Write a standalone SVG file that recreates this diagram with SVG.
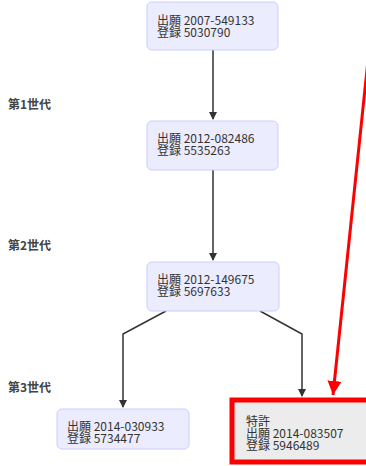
<svg xmlns="http://www.w3.org/2000/svg" width="366" height="466" viewBox="0 0 366 466">
<style>
  .node rect { fill: #ECECFF; stroke: #CCCCFF; stroke-width: 1; }
  .node text, .hl text { font-family: "Noto Sans CJK JP", "Noto Sans", sans-serif; font-size: 12px; fill: #333; }
  .gen { font-family: "Noto Sans CJK JP", "Noto Sans", sans-serif; font-size: 12px; font-weight: bold; fill: #444; }
  .edge { fill: none; stroke: #333; stroke-width: 1.5; }
  .red { fill: none; stroke: #FF0000; stroke-width: 3; }
</style>
<defs>
  <marker id="ah" markerWidth="8" markerHeight="8" refX="7" refY="4" orient="auto" markerUnits="userSpaceOnUse">
    <path d="M0,0 L8,4 L0,8 Z" fill="#333"/>
  </marker>
  <marker id="rah" markerWidth="16" markerHeight="14" refX="14" refY="7" orient="auto" markerUnits="userSpaceOnUse">
    <path d="M0,0 L14,7 L0,14 Z" fill="#FF0000"/>
  </marker>
</defs>
<rect width="366" height="466" fill="#FFFFFF"/>
<g id="labels">
  <text class="gen" x="8" y="109">第1世代</text>
  <text class="gen" x="8" y="250">第2世代</text>
  <text class="gen" x="8" y="392">第3世代</text>
</g>
<g id="connectors">
  <path class="edge" d="M213,50 L213,119" marker-end="url(#ah)"/>
  <path class="edge" d="M213,170 L213,260" marker-end="url(#ah)"/>
  <path class="edge" d="M166,311 L123,334 L123,407" marker-end="url(#ah)"/>
  <path class="edge" d="M260,311 L302,334 L302,396" marker-end="url(#ah)"/>
  <path class="red" d="M368,60 L333,395" marker-end="url(#rah)"/>
</g>
<g id="n1" class="node">
  <rect x="147" y="2" width="131" height="48" rx="5"/>
  <text x="157" y="25">出願 2007-549133<tspan x="157" dy="12">登録 5030790</tspan></text>
</g>
<g id="n2" class="node">
  <rect x="147" y="121" width="131" height="49" rx="5"/>
  <text x="157" y="143">出願 2012-082486<tspan x="157" dy="12">登録 5535263</tspan></text>
</g>
<g id="n3" class="node">
  <rect x="147" y="262" width="132" height="49" rx="5"/>
  <text x="157" y="284">出願 2012-149675<tspan x="157" dy="12">登録 5697633</tspan></text>
</g>
<g id="n4" class="node">
  <rect x="57" y="409" width="132" height="40" rx="5"/>
  <text x="67" y="431">出願 2014-030933<tspan x="67" dy="12">登録 5734477</tspan></text>
</g>
<g id="n5" class="hl">
  <rect x="232" y="400" width="150" height="62" fill="#ECECEC" stroke="#FF0000" stroke-width="5"/>
  <text x="246" y="426">特許<tspan x="246" dy="12">出願 2014-083507</tspan><tspan x="246" dy="12">登録 5946489</tspan></text>
</g>
</svg>
